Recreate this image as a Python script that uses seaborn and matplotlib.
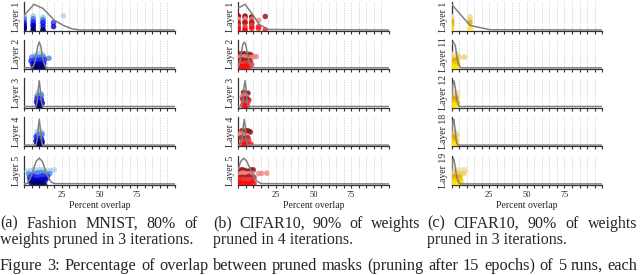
import numpy as np
import pandas as pd
import matplotlib
matplotlib.use("Agg")
import matplotlib.pyplot as plt
import seaborn as sns

sns.set_theme(style="white")
plt.rcParams["font.family"] = ["Liberation Serif", "DejaVu Serif"]
np.random.seed(3)

RUNS = ["run 1", "run 2", "run 3", "run 4", "run 5"]
PAL_A = ["#a9d6ea", "#4f86de", "#1f2bff", "#0000b8", "#00006e"]
PAL_B = ["#8e1010", "#f08585", "#b01818", "#e83a3a", "#ff0a0a"]
PAL_C = ["#efe2a8", "#f0cf66", "#e0a600", "#f5c200", "#ffe200"]

LAYERS_A = ["Layer 1", "Layer 2", "Layer 3", "Layer 4", "Layer 5"]
LAYERS_B = ["Layer 1", "Layer 2", "Layer 3", "Layer 4", "Layer 5"]
LAYERS_C = ["Layer 1", "Layer 11", "Layer 12", "Layer 18", "Layer 19"]
TICK_LABELS = ["25", "50", "75"]

# ---- overlap values (percent), one list per run ----
FM_L1 = [[0, 0, 6, 6, 12.5, 12.5, 26], [0, 0, 6, 6, 12.5, 12.5],
         [0, 0, 6, 6, 12.5, 12.5, 19.5], [0, 0, 6, 6, 12.5, 19.5],
         [0, 0, 6, 6, 12.5, 12.5]]
FM_L2 = [[7, 8.5, 9.5, 10.5, 11.5, 12.5], [5, 7.5, 9, 10, 11, 12, 13, 16.5],
         [4.5, 6.5, 8, 9, 10, 11, 12, 13.5], [5.5, 7, 8.5, 9.5, 10.5, 11.5, 13],
         [6, 7.5, 8.5, 9.5, 10, 11, 12, 13]]
FM_L3 = [[9, 9.8, 10.5, 11.2], [8.5, 9.5, 10.3, 11.5], [8.5, 9.3, 10, 10.8, 11.5],
         [8.2, 9.2, 10, 10.8, 12], [8.8, 9.6, 10.3, 11]]
FM_L4 = [[8.5, 9.5, 10.5, 11.5], [8, 9, 10, 11, 12], [8, 9, 9.8, 10.6, 11.5],
         [7.8, 8.8, 9.8, 10.8, 12], [8.5, 9.3, 10, 10.8, 11.6]]
FM_L5 = [[2, 4, 6, 8, 10, 12, 14, 16, 18, 20], [3, 5, 7, 9, 11, 13, 15, 17],
         [3.5, 5, 6.5, 8, 9.5, 11, 12.5, 14, 15.5], [4, 5.5, 7, 8.5, 10, 11.5, 13, 14.5],
         [4.5, 6, 7.5, 9, 10.5, 12, 13.5]]

CF_L1 = [[0, 0, 4.5, 4.5, 9, 9, 18], [0, 0, 4.5, 4.5, 9, 13.5], [0, 0, 4.5, 4.5, 9, 9],
         [0, 0, 4.5, 9, 9, 13.5], [0, 0, 4.5, 4.5, 9, 13.5, 18]]
CF_L2 = [[1, 2.5, 4, 5.5, 7, 8.5], [1.5, 3, 4.5, 6, 8, 10.5, 12], [0.5, 2, 3.5, 5, 6.5, 8],
         [1, 2.5, 4, 5.5, 7, 9], [0.5, 1.5, 3, 4, 5, 6, 7.5]]
CF_L3 = [[3.5, 4.5, 5.5, 6.5], [2.5, 3.5, 4.5, 5.5], [3, 4, 5, 6, 7],
         [3.5, 4.5, 5.5, 6.5], [3, 4, 5, 6]]
CF_L4 = [[2.5, 4, 5.5, 7, 8], [1.5, 3, 4.5, 6], [2, 3.5, 5, 6.5],
         [2.5, 4, 5.5, 7], [2, 3.5, 4.5, 6, 8.5]]
CF_L5 = [[1, 2.5, 4, 5.5, 7, 8.5, 10], [0.5, 2, 3.5, 5, 6.5, 8, 9.5, 13.5, 15.5, 19],
         [1, 2.5, 4, 5.5, 7, 8.5, 10.5], [0.5, 2, 3.5, 5, 6.5, 8, 9.5],
         [0.5, 1.5, 3, 4.5, 6, 7.5, 9, 10.5]]

VG_L1 = [[0, 0, 12.2, 12.2], [0, 0, 12.2], [0, 0, 12.2], [0, 0], [0, 0, 12.2]]
VG_L11 = [[0.5, 1.5, 2.5, 3.5, 4.5], [0.5, 2, 3.5, 5, 8.5], [1, 2, 3],
          [0.5, 1.5, 2.5, 4], [0.5, 1, 2, 3, 4]]
VG_L12 = [[1, 2, 3, 4], [0.5, 1.5, 2.5, 3.5], [1, 2, 3], [0.5, 1.5, 2.5, 4], [0.5, 1, 2, 3]]
VG_L18 = [[0.5, 1.5, 2.5], [0.5, 1.5, 2.5, 3.5], [1, 2], [0.5, 1.5, 3], [0.5, 1, 2, 3.5]]
VG_L19 = [[1, 2.5, 4, 5.5, 7, 8.5, 9.5], [1, 2, 3.5, 5, 6.5, 8], [0.5, 2, 3.5, 5],
          [0.5, 1.5, 3, 4.5, 6], [0.5, 1.5, 2.5, 4, 5.5, 7]]

# ---- density curves (relative height) ----
FM_L1_CX = [0, 6.5, 12.5, 20, 26, 31.5, 37, 100]
FM_L1_CY = [0.57, 1.0, 0.84, 0.38, 0.18, 0.05, 0, 0]
FM_L2_CX = [0, 5, 6, 7, 8, 9, 10, 11, 12, 13, 14, 15, 100]
FM_L2_CY = [0, 0, 0.06, 0.2, 0.5, 0.84, 1, 0.84, 0.5, 0.2, 0.06, 0, 0]
FM_L3_CX = [0, 7.8, 8.6, 9.3, 10, 10.7, 11.4, 12.2, 100]
FM_L3_CY = [0, 0, 0.2, 0.65, 1, 0.65, 0.2, 0, 0]
FM_L4_CX = [0, 7.8, 8.6, 9.3, 10, 10.7, 11.4, 12.2, 100]
FM_L4_CY = [0, 0, 0.2, 0.65, 1, 0.65, 0.2, 0, 0]
FM_L5_CX = [0, 2, 4, 6, 8, 10, 12, 14, 16, 18, 20, 100]
FM_L5_CY = [0, 0.02, 0.2, 0.55, 0.88, 1, 0.88, 0.55, 0.25, 0.07, 0.01, 0]

CF_L1_CX = [0, 4.5, 9, 14, 20, 100]
CF_L1_CY = [0.85, 1.0, 0.65, 0.22, 0.02, 0]
CF_L2_CX = [0, 1, 2, 3, 4, 5, 6, 7, 8, 10, 100]
CF_L2_CY = [0.05, 0.2, 0.55, 0.9, 1, 0.9, 0.6, 0.3, 0.1, 0, 0]
CF_L3_CX = [0, 2.3, 3.2, 3.8, 4.5, 5.2, 5.8, 6.7, 100]
CF_L3_CY = [0, 0, 0.25, 0.7, 1, 0.7, 0.25, 0, 0]
CF_L4_CX = [0, 1.8, 2.7, 3.3, 4, 4.7, 5.3, 6.2, 100]
CF_L4_CY = [0, 0, 0.25, 0.7, 1, 0.7, 0.25, 0, 0]
CF_L5_CX = [0, 1.5, 3.5, 5.5, 7.5, 9.5, 11.5, 13.5, 16, 100]
CF_L5_CY = [0.55, 0.85, 1, 0.9, 0.65, 0.38, 0.17, 0.06, 0.01, 0]

VG_L1_CX = [0, 12.2, 25.5, 100]
VG_L1_CY = [1.0, 0.18, 0.01, 0]
VG_L11_CX = [0, 1.2, 2.5, 3.5, 4.5, 6, 100]
VG_L11_CY = [0.9, 1, 0.85, 0.45, 0.15, 0, 0]
VG_L12_CX = [0, 0.8, 1.6, 2.5, 3.5, 5, 100]
VG_L12_CY = [0.3, 0.85, 1, 0.7, 0.25, 0, 0]
VG_L18_CX = [0, 0.8, 1.5, 2.3, 3, 4, 100]
VG_L18_CY = [0.4, 0.9, 1, 0.6, 0.2, 0, 0]
VG_L19_CX = [0, 0.7, 1.3, 2.2, 3, 4, 5.5, 100]
VG_L19_CY = [0.45, 0.9, 1, 0.75, 0.4, 0.15, 0, 0]

PANELS = [
    (24.2, PAL_A, LAYERS_A, [FM_L1, FM_L2, FM_L3, FM_L4, FM_L5],
     [(FM_L1_CX, FM_L1_CY), (FM_L2_CX, FM_L2_CY), (FM_L3_CX, FM_L3_CY),
      (FM_L4_CX, FM_L4_CY), (FM_L5_CX, FM_L5_CY)]),
    (238.2, PAL_B, LAYERS_B, [CF_L1, CF_L2, CF_L3, CF_L4, CF_L5],
     [(CF_L1_CX, CF_L1_CY), (CF_L2_CX, CF_L2_CY), (CF_L3_CX, CF_L3_CY),
      (CF_L4_CX, CF_L4_CY), (CF_L5_CX, CF_L5_CY)]),
    (451.6, PAL_C, LAYERS_C, [VG_L1, VG_L11, VG_L12, VG_L18, VG_L19],
     [(VG_L1_CX, VG_L1_CY), (VG_L11_CX, VG_L11_CY), (VG_L12_CX, VG_L12_CY),
      (VG_L18_CX, VG_L18_CY), (VG_L19_CX, VG_L19_CY)]),
]

W, H = 640, 275
fig = plt.figure(figsize=(6.4, 2.75), dpi=100)
ROW_TOPS = [1.7, 39.5, 78.2, 116.8, 155.6]
AX_H = 29.6
AX_W = 150.5
TICKS = list(range(0, 101, 5))

for left, pal, layers, pts_list, curves in PANELS:
    for i, (lname, pts, (cx, cy)) in enumerate(zip(layers, pts_list, curves)):
        top = ROW_TOPS[i]
        ax = fig.add_axes([left / W, 1 - (top + AX_H) / H, AX_W / W, AX_H / H])
        rows = [(v, RUNS[r]) for r, vals in enumerate(pts) for v in vals]
        dfp = pd.DataFrame(rows, columns=["overlap", "run"])
        sns.stripplot(data=dfp, x="overlap", y="run", hue="run", order=RUNS,
                      hue_order=RUNS, palette=pal, orient="h", jitter=0.32,
                      size=4.0, alpha=0.8, linewidth=0, ax=ax, legend=False)
        ax.set_ylim(4.65, -4.65)
        ax.set_xlim(0, 100)
        ax.set_yticks([])
        ax.set_xticks(TICKS)
        ax.set_axisbelow(True)
        ax.grid(axis="x", ls=(0, (1.5, 1.5)), color="#cfcfcf", lw=0.6)
        ax.grid(axis="y", visible=False)
        for s in ["top", "right"]:
            ax.spines[s].set_visible(False)
        for s in ["left", "bottom"]:
            ax.spines[s].set_color("#333333")
            ax.spines[s].set_linewidth(0.9)
        ax.tick_params(axis="x", bottom=True, length=2.2, width=0.8,
                       color="#333333", direction="out", pad=2, labelsize=6)
        ax.set_ylabel(lname, fontsize=7, labelpad=2.5)
        if i == 4:
            ax.set_xticklabels([str(t) if str(t) in TICK_LABELS else "" for t in TICKS])
            ax.set_xlabel("Percent overlap", fontsize=7, labelpad=1.5)
        else:
            ax.set_xticklabels([])
            ax.set_xlabel("")
        ax2 = ax.twinx()
        dfc = pd.DataFrame({"x": cx, "y": cy})
        sns.lineplot(data=dfc, x="x", y="y", ax=ax2, color="#808080", lw=1.1, sort=False)
        ax2.set_ylim(-0.05, 1.1)
        ax2.set_xlim(0, 100)
        ax2.set_yticks([])
        ax2.set_ylabel("")
        ax2.set_xlabel("")
        for s in ax2.spines.values():
            s.set_visible(False)

# ---- captions ----
CAP_SIZE = 11.5
renderer = fig.canvas.get_renderer()


def justified(words, x0, x1, ybase, size):
    texts = [fig.text(0, 1 - ybase / H, w, fontsize=size, va="baseline", ha="left")
             for w in words]
    widths = [t.get_window_extent(renderer).width for t in texts]
    gap = ((x1 - x0) - sum(widths)) / (len(words) - 1)
    x = x0
    for t, wd in zip(texts, widths):
        t.set_x(x / W)
        x += wd + gap


CAPTIONS = [
    ("(a) Fashion MNIST, 80% of", "weights pruned in 3 iterations.", 0, 198),
    ("(b) CIFAR10, 90% of weights", "pruned in 4 iterations.", 213, 420),
    ("(c) CIFAR10, 90% of weights", "pruned in 3 iterations.", 427, 637),
]
for l1, l2, x0, x1 in CAPTIONS:
    justified(l1.split(" "), x0, x1, 227.5, CAP_SIZE)
    fig.text(x0 / W, 1 - 243.5 / H, l2, fontsize=CAP_SIZE, va="baseline", ha="left")

FIG_CAPTION = "Figure 3: Percentage of overlap between pruned masks (pruning after 15 epochs) of 5 runs, each"
justified(FIG_CAPTION.split(" "), 0, 637, 270, 11.8)

fig.savefig("out.png", dpi=100)
